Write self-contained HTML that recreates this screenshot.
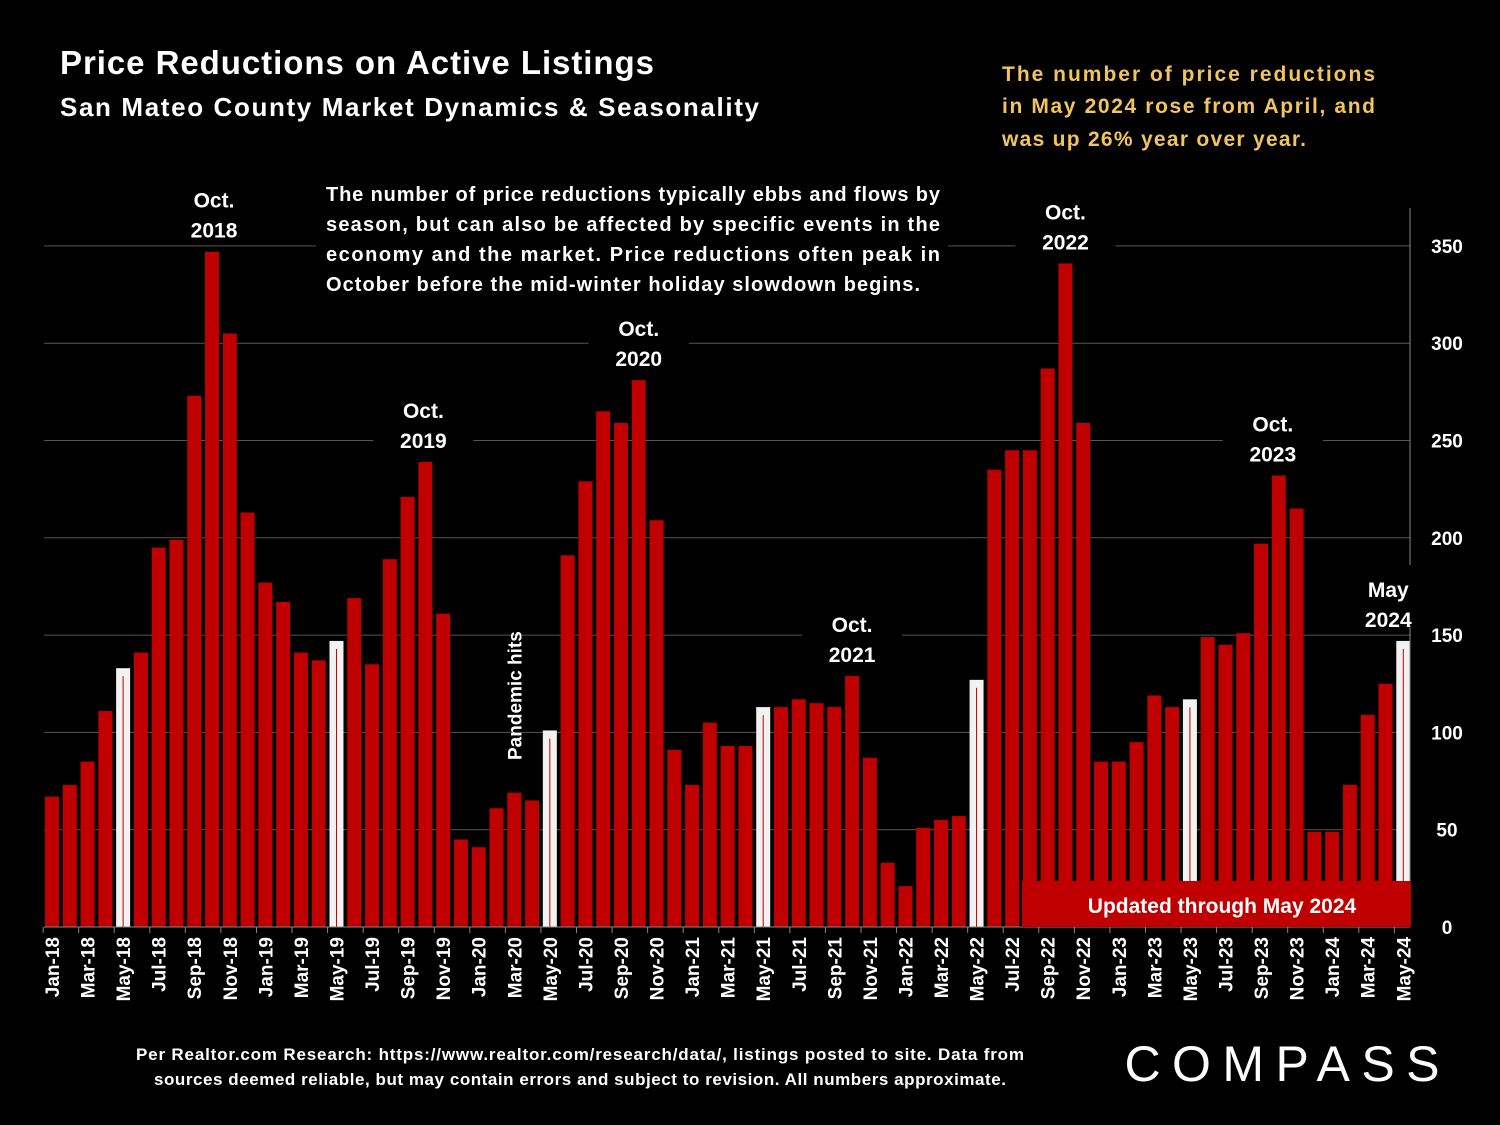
<!DOCTYPE html>
<html><head><meta charset="utf-8"><style>
body{margin:0;background:#000;width:1500px;height:1125px;overflow:hidden;font-family:"Liberation Sans",sans-serif;color:#fff}
</style></head><body>
<svg id="chart" width="1500" height="1125" xmlns="http://www.w3.org/2000/svg" style="position:absolute;left:0;top:0">
<rect width="1500" height="1125" fill="#000"/>
<text x="60" y="74" font-size="33" font-weight="bold" fill="#fff" textLength="594">Price Reductions on Active Listings</text>
<text x="60" y="116" font-size="26" font-weight="bold" fill="#fff" textLength="699">San Mateo County Market Dynamics &amp; Seasonality</text>
<g font-size="21" font-weight="bold" fill="#f2c45a">
<text x="1002" y="81" textLength="373">The number of price reductions</text>
<text x="1002" y="113" textLength="373">in May 2024 rose from April, and</text>
<text x="1002" y="146" textLength="304">was up 26% year over year.</text>
</g>
<g id="grid"></g>
<g id="bars"></g>
<g id="axes"></g>
<g id="notes"></g>
<text x="580" y="1060" text-anchor="middle" font-size="17" font-weight="bold" fill="#fff" textLength="888">Per Realtor.com Research:  https://www.realtor.com/research/data/, listings posted to site. Data from</text>
<text x="580" y="1085" text-anchor="middle" font-size="17" font-weight="bold" fill="#fff" textLength="852">sources deemed reliable, but may contain errors and subject to revision. All numbers approximate.</text>
<text x="1282" y="1081" text-anchor="middle" font-size="50" fill="#fff" textLength="315">COMPASS</text>
</svg>
<script>
const months=["Jan","Feb","Mar","Apr","May","Jun","Jul","Aug","Sep","Oct","Nov","Dec"];
const values=[67,73,85,111,133,141,195,199,273,347,305,213,
177,167,141,137,147,169,135,189,221,239,161,45,
41,61,69,65,101,191,229,265,259,281,209,91,
73,105,93,93,113,113,117,115,113,129,87,33,
21,51,55,57,127,235,245,245,287,341,259,85,
85,95,119,113,117,149,145,151,197,232,215,49,
49,73,109,125,147];
const yTicks=[0,50,100,150,200,250,300,350];
const NS="http://www.w3.org/2000/svg";
const x0=52,step=17.78,bw=14,y0=927,ppu=1.946;
const X=i=>x0+i*step, Y=v=>y0-v*ppu;
function mk(t,a,p){const e=document.createElementNS(NS,t);for(const k in a)e.setAttribute(k,a[k]);p.appendChild(e);return e;}
const grid=document.getElementById('grid'),bars=document.getElementById('bars'),axes=document.getElementById('axes'),notes=document.getElementById('notes');
yTicks.forEach(v=>{
 if(v>0){const l=mk('line',{x1:44,x2:1410,y1:Y(v),y2:Y(v),stroke:'#555','stroke-width':1},grid);
 
 }
 const t=mk('text',{x:1447,y:Y(v)+7,'text-anchor':'middle','font-size':19,'font-weight':'bold',fill:'#fff'},axes);
 t.textContent=v;
 
 
});
values.forEach((v,i)=>{
 const m=months[i%12],yr=18+Math.floor(i/12),lab=m+'-'+yr;
 const may=(i%12)===4;
 const r=mk('rect',{x:X(i)-bw/2,y:Y(v),width:bw,height:v*ppu,fill:may?'#f2f2f2':'#c00000'},bars);
 
 
 if(may){mk('line',{x1:X(i),x2:X(i),y1:Y(v)+8,y2:y0,stroke:'#c00000','stroke-width':1},bars);}
 if(i%2===0){
  const t=mk('text',{x:0,y:0,transform:`translate(${X(i)+7},${y0+10}) rotate(-90)`,'text-anchor':'end','font-size':19,'font-weight':'bold',fill:'#fff'},axes);
  t.textContent=lab;
  
  
  mk('line',{x1:X(i)-step/2,x2:X(i)-step/2,y1:y0,y2:y0+6,stroke:'#888'},axes);
 }
});
mk('line',{x1:44,x2:1410,y1:y0,y2:y0,stroke:'#888','stroke-width':1},axes);
mk('line',{x1:1410,x2:1410,y1:208,y2:y0,stroke:'#888','stroke-width':1},axes);
const ub=mk('rect',{x:1022,y:881,width:389,height:46,fill:'#c00000'},notes);


const ut=mk('text',{x:1222,y:913,'text-anchor':'middle','font-size':21,'font-weight':'bold',fill:'#fff'},notes);
ut.textContent='Updated through May 2024';
function ann(i,v,l1,l2,dx){
 const cx=X(i)+(dx||0),by=Y(v)-14;
 mk('rect',{x:cx-50,y:by-62,width:100,height:60,fill:'#000'},notes);
 const a=mk('text',{x:cx,y:by-30,'text-anchor':'middle','font-size':21,'font-weight':'bold',fill:'#fff'},notes);a.textContent=l1;
 const b=mk('text',{x:cx,y:by,'text-anchor':'middle','font-size':21,'font-weight':'bold',fill:'#fff'},notes);b.textContent=l2;
 
 
}
ann(9,347,'Oct.','2018',2);ann(21,239,'Oct.','2019',-2);ann(33,281,'Oct.','2020',0);
ann(45,129,'Oct.','2021',0);ann(57,341,'Oct.','2022',0);ann(69,232,'Oct.','2023',-6);ann(76,147,'May','2024',-15);
const ph=mk('text',{transform:`translate(${X(26)+7},760) rotate(-90)`,'font-size':19,'font-weight':'bold',fill:'#fff'},notes);
ph.textContent='Pandemic hits';


mk('rect',{x:316,y:176,width:632,height:122,fill:'#000'},notes);
['The number of price reductions typically ebbs and flows by','season, but can also be affected by specific events in the','economy and the market. Price reductions often peak in','October before the mid-winter holiday slowdown begins.'].forEach((s,k)=>{
 const t=mk('text',{x:326,y:201+k*30,'font-size':20,'font-weight':'bold',fill:'#fff'},notes);
 t.setAttribute('textLength',k<3?614:594);
 t.textContent=s;
 
 
});
</script>
</body></html>
